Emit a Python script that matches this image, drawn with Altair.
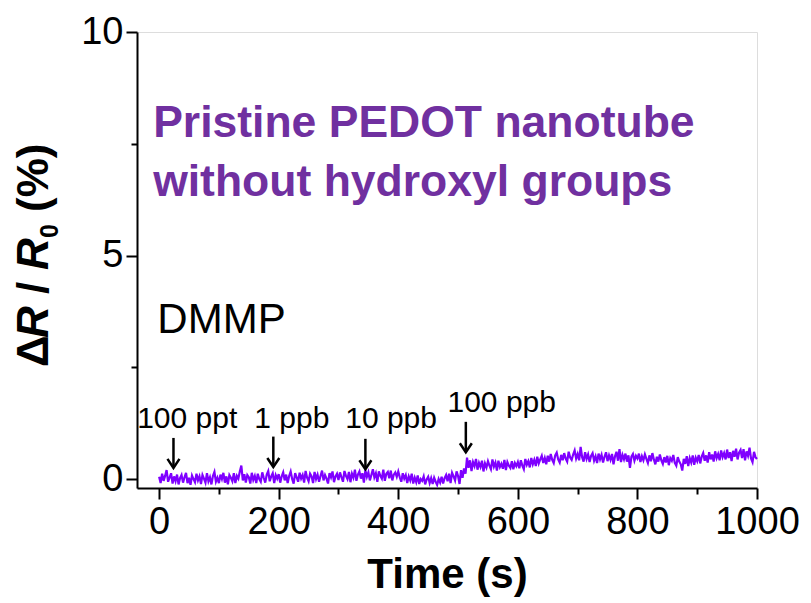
import altair as alt
import pandas as pd

# ---- data ----
time_s = [i * 2.5 for i in range(401)]
response = [
    # 0-97.5
    0.05, -0.09, 0.12, -0.04, 0.07, 0.20, -0.06, 0.03, 0.13, -0.10, 0.06, -0.05, 0.10, -0.12, 0.02, 0.09, -0.08, 0.04, 0.14, -0.09,
    0.03, -0.13, 0.08, 0.00, -0.07, 0.12, -0.03, 0.06, -0.11, 0.09, 0.01, -0.08, 0.13, -0.05, 0.04, -0.12, 0.07, 0.16, -0.06, 0.03,
    # 100-197.5
    -0.09, 0.10, 0.00, 0.14, -0.08, 0.06, -0.12, 0.09, 0.03, -0.05, 0.13, -0.09, 0.07, 0.01, 0.17, 0.30, -0.03, 0.11, -0.08, 0.09,
    0.04, -0.10, 0.14, -0.02, 0.07, -0.09, 0.12, 0.00, -0.06, 0.15, 0.03, -0.08, 0.10, 0.18, -0.05, 0.06, 0.13, -0.09, 0.09, 0.01,
    # 200-297.5
    0.11, -0.08, 0.06, 0.15, -0.03, 0.10, -0.09, 0.07, 0.17, 0.00, -0.10, 0.13, 0.04, -0.06, 0.14, 0.01, 0.09, -0.08, 0.18, 0.03,
    -0.05, 0.12, 0.06, -0.09, 0.16, 0.00, 0.10, -0.06, 0.07, 0.19, -0.03, 0.09, 0.01, -0.10, 0.13, 0.04, 0.17, -0.07, 0.06, 0.12,
    # 300-397.5
    -0.02, 0.15, 0.04, -0.06, 0.18, 0.07, 0.00, 0.16, -0.07, 0.12, 0.03, 0.21, -0.04, 0.10, 0.17, 0.01, 0.13, -0.08, 0.20, 0.05,
    0.15, -0.03, 0.09, 0.22, 0.04, 0.13, -0.06, 0.17, 0.07, 0.01, 0.21, -0.04, 0.12, 0.16, 0.02, 0.19, -0.03, 0.10, 0.15, 0.05,
    # 400-497.5
    0.17, 0.04, -0.06, 0.13, 0.01, 0.09, -0.09, 0.06, -0.03, 0.12, -0.10, 0.03, -0.07, 0.08, -0.11, 0.00, -0.04, 0.06, -0.12, -0.01,
    0.05, -0.09, 0.02, -0.11, 0.03, -0.06, -0.13, 0.00, -0.08, 0.05, -0.10, 0.02, 0.09, -0.05, 0.12, -0.09, 0.14, 0.06, -0.03, 0.17,
    # 500-597.5
    0.07, -0.11, 0.20, 0.03, 0.24, 0.12, 0.48, 0.25, 0.42, 0.18, 0.38, 0.29, 0.45, 0.21, 0.36, 0.27, 0.41, 0.17, 0.35, 0.26,
    0.40, 0.30, 0.22, 0.44, 0.28, 0.37, 0.19, 0.41, 0.27, 0.34, 0.23, 0.43, 0.20, 0.38, 0.30, 0.25, 0.40, 0.22, 0.36, 0.29,
    # 600-697.5
    0.38, 0.24, 0.42, 0.30, 0.22, 0.45, 0.32, 0.40, 0.26, 0.47, 0.33, 0.43, 0.29, 0.50, 0.35, 0.44, 0.52, 0.36, 0.47, 0.33,
    0.52, 0.39, 0.56, 0.43, 0.36, 0.53, 0.59, 0.44, 0.37, 0.54, 0.42, 0.58, 0.46, 0.39, 0.61, 0.48, 0.43, 0.55, 0.64, 0.46,
    # 700-797.5
    0.56, 0.42, 0.72, 0.49, 0.39, 0.60, 0.45, 0.55, 0.38, 0.52, 0.58, 0.41, 0.51, 0.36, 0.57, 0.44, 0.54, 0.37, 0.50, 0.60,
    0.40, 0.53, 0.43, 0.56, 0.33, 0.51, 0.61, 0.41, 0.67, 0.38, 0.54, 0.44, 0.57, 0.39, 0.53, 0.25, 0.50, 0.56, 0.41, 0.52,
    # 800-897.5
    0.46, 0.57, 0.38, 0.51, 0.42, 0.55, 0.45, 0.36, 0.53, 0.40, 0.58, 0.44, 0.33, 0.50, 0.39, 0.55, 0.42, 0.34, 0.49, 0.37,
    0.52, 0.31, 0.47, 0.41, 0.54, 0.36, 0.30, 0.49, 0.39, 0.33, 0.19, 0.45, 0.34, 0.51, 0.29, 0.47, 0.37, 0.53, 0.32, 0.48,
    # 900-997.5
    0.40, 0.54, 0.35, 0.50, 0.58, 0.41, 0.53, 0.37, 0.60, 0.44, 0.55, 0.39, 0.62, 0.47, 0.56, 0.42, 0.64, 0.49, 0.58, 0.44,
    0.66, 0.47, 0.60, 0.40, 0.63, 0.50, 0.68, 0.44, 0.59, 0.65, 0.47, 0.67, 0.42, 0.62, 0.52, 0.70, 0.46, 0.38, 0.61, 0.49,
    # 1000
    0.45,
]

ann_labels = ["100 ppt", "1 ppb", "10 ppb", "100 ppb"]
ann_label_x = [47, 222, 388, 573]
ann_label_y = [1.14, 1.14, 1.14, 1.50]
arrow_x = [24, 191, 345, 513]
arrow_top = [0.92, 0.95, 0.90, 1.28]
arrow_tip = [0.25, 0.27, 0.22, 0.60]

title_lines = ["Pristine PEDOT nanotube", "without hydroxyl groups"]
title_x = [-10, -10]
title_y = [7.65, 6.33]

gas_label = ["DMMP"]
gas_x = [-3]
gas_y = [3.27]

x_major = [0, 200, 400, 600, 800, 1000]
x_minor = [100, 300, 500, 700, 900]
y_major = [0, 5, 10]
y_minor = [2.5, 7.5]

FONT = "Liberation Sans"
LINE_COLOR = "#7F00FF"
TITLE_COLOR = "#7030A0"

line_df = pd.DataFrame({"t": time_s, "r": response})
ann_df = pd.DataFrame({"label": ann_labels, "lx": ann_label_x, "ly": ann_label_y,
                       "ax": arrow_x, "atop": arrow_top, "atip": arrow_tip})
title_df = pd.DataFrame({"text": title_lines, "x": title_x, "y": title_y})
gas_df = pd.DataFrame({"text": gas_label, "x": gas_x, "y": gas_y})

xscale = alt.Scale(domain=[-37, 1000], nice=False, zero=False)
yscale = alt.Scale(domain=[-0.2, 10], nice=False, zero=False)

common_axis = dict(domainColor="black", domainWidth=2, tickColor="black", tickWidth=2,
                   labelColor="black", labelFont=FONT, labelFontSize=38, grid=False,
                   labelFlush=False, labelOverlap=False)

main = alt.Chart(line_df).mark_line(color=LINE_COLOR, strokeWidth=2.2).encode(
    x=alt.X("t:Q", scale=xscale,
            axis=alt.Axis(values=x_major, tickSize=11, labelPadding=4, orient="bottom",
                          title="Time (s)", titleFont=FONT, titleFontSize=42,
                          titleFontWeight="bold", titleColor="black", titlePadding=13,
                          format="d", **common_axis)),
    y=alt.Y("r:Q", scale=yscale,
            axis=alt.Axis(values=y_major, tickSize=11, labelPadding=3, orient="left",
                          title=None, format="d", **common_axis)),
)

minor = alt.Chart(line_df).mark_line(opacity=0).encode(
    x=alt.X("t:Q", scale=xscale,
            axis=alt.Axis(values=x_minor, tickSize=6, labels=False, domain=False,
                          orient="bottom", title=None, tickColor="black", tickWidth=2, grid=False)),
    y=alt.Y("r:Q", scale=yscale,
            axis=alt.Axis(values=y_minor, tickSize=6, labels=False, domain=False,
                          orient="left", title=None, tickColor="black", tickWidth=2, grid=False)),
)

shafts = alt.Chart(ann_df).mark_rule(color="black", strokeWidth=2.5).encode(
    x=alt.X("ax:Q", scale=xscale, axis=None),
    y=alt.Y("atop:Q", scale=yscale, axis=None),
    y2="atip:Q",
)

heads = alt.Chart(ann_df).mark_point(
    shape="M -1 -1.5 L 0 0 L 1 -1.5", filled=False, color="black", strokeWidth=2.5, size=144, opacity=1
).encode(
    x=alt.X("ax:Q", scale=xscale, axis=None),
    y=alt.Y("atip:Q", scale=yscale, axis=None),
)

ann_text = alt.Chart(ann_df).mark_text(
    font=FONT, fontSize=30, color="black", align="center", baseline="alphabetic"
).encode(
    x=alt.X("lx:Q", scale=xscale, axis=None),
    y=alt.Y("ly:Q", scale=yscale, axis=None),
    text="label:N",
)

title_text = alt.Chart(title_df).mark_text(
    font=FONT, fontSize=44.5, fontWeight="bold", color=TITLE_COLOR, align="left", baseline="alphabetic"
).encode(
    x=alt.X("x:Q", scale=xscale, axis=None),
    y=alt.Y("y:Q", scale=yscale, axis=None),
    text="text:N",
)

gas_text = alt.Chart(gas_df).mark_text(
    font=FONT, fontSize=42, color="black", align="left", baseline="alphabetic"
).encode(
    x=alt.X("x:Q", scale=xscale, axis=None),
    y=alt.Y("y:Q", scale=yscale, axis=None),
    text="text:N",
)

# y-axis title pieces (rotated 270 deg), pixel offsets relative to the plot area
yt_size = 44
yt_pieces = [
    ("\u0394", "normal", yt_size, 335, -89),
    ("R", "italic", yt_size, 306, -89),
    ("/", "normal", yt_size, 262, -89),
    ("R", "italic", yt_size, 238, -89),
    ("0", "normal", 25, 206, -79),
    ("(%)", "normal", yt_size, 180, -89),
]
ytitle_layers = []
for txt, style, size, ypix, xpix in yt_pieces:
    ytitle_layers.append(
        alt.Chart(gas_df).mark_text(
            text=txt, font=FONT, fontSize=size, fontWeight="bold", fontStyle=style,
            color="black", angle=270, align="left", baseline="alphabetic"
        ).encode(x=alt.value(xpix), y=alt.value(ypix))
    )

chart = alt.layer(
    minor, main, shafts, heads, ann_text, title_text, gas_text, *ytitle_layers
).resolve_axis(x="independent", y="independent").properties(
    width=620, height=456,
    autosize=alt.AutoSizeParams(type="none"),
    padding={"left": 137, "top": 32, "right": 54, "bottom": 115},
).configure_view(stroke=None).configure(background="white")

chart.save("out.html", embed_options={"renderer": "svg", "actions": False})
